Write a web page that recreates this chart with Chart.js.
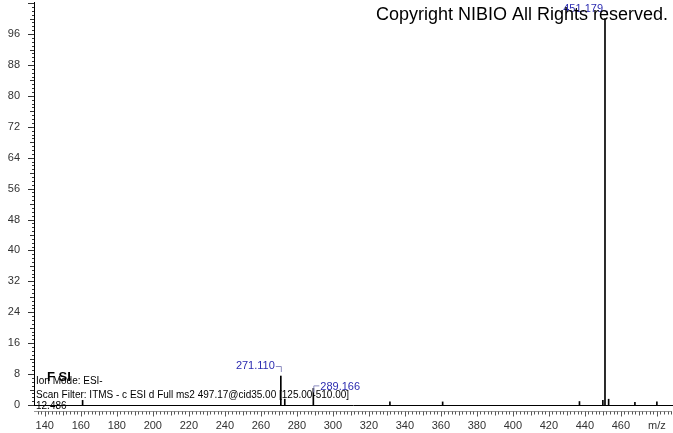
<!DOCTYPE html>
<html>
<head>
<meta charset="utf-8">
<script src="https://cdn.jsdelivr.net/npm/chart.js@4.4.0/dist/chart.umd.min.js"></script>
<style>
  body { margin: 0; background: #fff; }
  canvas { display: block; }
</style>
</head>
<body>
<canvas id="ms" width="673" height="433"></canvas>
<script>
// peaks (m/z, relative abundance)
const mz        = [161.0, 271.110, 273.3, 289.166, 331.7, 361.0, 437.0, 450.0, 451.179, 453.2, 467.8, 480.0];
const intensity = [1.2,   7.5,     1.5,   4.3,     0.8,   0.8,   0.9,   1.2,   100,     1.5,   0.7,   0.8];
const peakLabels = ["451.179", "271.110", "289.166"];
const labelSide  = ["up", "left", "right"];

const xMin = 134, xMax = 488.4;
const yMax = 104.3;

const infoLines = [
  "Ion Mode: ESI-",
  "Scan Filter: ITMS - c ESI d Full ms2 497.17@cid35.00 [125.00-510.00]",
  "12.486"
];

const overlay = {
  id: "overlay",
  afterDraw(chart) {
    const ctx = chart.ctx;
    const x = chart.scales.x, y = chart.scales.y;
    const area = chart.chartArea;
    ctx.save();

    // y minor ticks
    ctx.strokeStyle = "#333";
    ctx.lineWidth = 1;
    for (let v = 0; v <= 104; v++) {
      const py = Math.round(y.getPixelForValue(v)) + 0.5;
      const len = v % 8 === 0 ? 6 : (v % 4 === 0 ? 4 : 2);
      ctx.beginPath();
      ctx.moveTo(area.left - len, py);
      ctx.lineTo(area.left, py);
      ctx.stroke();
    }

    // x tick row under baseline
    const rowY = area.bottom + 6.5;
    ctx.strokeStyle = "#999";
    ctx.beginPath();
    ctx.moveTo(area.left, rowY);
    ctx.lineTo(area.right, rowY);
    ctx.stroke();
    ctx.strokeStyle = "#555";
    for (let v = 136; v <= 488; v += 2) {
      const px = Math.round(x.getPixelForValue(v)) + 0.5;
      const len = v % 20 === 0 ? 5 : (v % 10 === 0 ? 4 : 3);
      ctx.beginPath();
      ctx.moveTo(px, rowY);
      ctx.lineTo(px, rowY + len);
      ctx.stroke();
    }

    // peak labels
    ctx.font = "11px Arial, 'Liberation Sans'";
    ctx.textBaseline = "middle";
    peakLabels.forEach((lab, i) => {
      const idx = mz.findIndex(m => m.toFixed(3) === lab);
      const px = x.getPixelForValue(mz[idx]);
      const py = y.getPixelForValue(intensity[idx]);
      ctx.fillStyle = "#2b2bb0";
      ctx.strokeStyle = "#8c8cc0";
      ctx.beginPath();
      if (labelSide[i] === "up") {
        const ly = py - 10;
        ctx.textAlign = "right";
        ctx.fillText(lab, px - 2, ly);
        ctx.moveTo(px - 1, ly + 2.5); ctx.lineTo(px + 2.5, ly + 2.5); ctx.lineTo(px + 2.5, ly + 6);
      } else if (labelSide[i] === "left") {
        const ly = py - 10;
        ctx.textAlign = "right";
        ctx.fillText(lab, px - 6, ly);
        ctx.moveTo(px - 5, ly + 0.5); ctx.lineTo(px + 0.5, ly + 0.5); ctx.lineTo(px + 0.5, ly + 6);
      } else {
        const ly = py - 1;
        ctx.textAlign = "left";
        ctx.fillText(lab, px + 7, ly);
        ctx.moveTo(px + 6, ly - 1.5); ctx.lineTo(px + 0.5, ly - 1.5); ctx.lineTo(px + 0.5, ly + 5);
      }
      ctx.stroke();
    });

    // copyright
    ctx.fillStyle = "#000";
    ctx.textAlign = "left";
    ctx.textBaseline = "alphabetic";
    ctx.font = "18px Arial, 'Liberation Sans'";
    ctx.fillText("Copyright NIBIO All Rights reserved.", 376, 20, 292);

    // info block
    ctx.font = "bold 13px Arial, 'Liberation Sans'";
    ctx.fillText("F SI", 47, 381);
    ctx.font = "10px Arial, 'Liberation Sans'";
    ctx.textBaseline = "middle";
    ctx.fillText(infoLines[0], 36, 381);
    ctx.fillText(infoLines[1], 36, 395, 325);
    ctx.fillText(infoLines[2], 36, 406);

    ctx.restore();
  }
};

new Chart(document.getElementById("ms"), {
  type: "bar",
  data: {
    datasets: [{
      data: mz.map((m, i) => ({ x: m, y: intensity[i] })),
      backgroundColor: "#000",
      borderWidth: 0,
      barThickness: 1
    }]
  },
  options: {
    responsive: false,
    animation: false,
    layout: { padding: { top: 2, right: 1, left: 0, bottom: 0 } },
    plugins: { legend: { display: false }, tooltip: { enabled: false } },
    scales: {
      x: {
        type: "linear",
        offset: false,
        min: xMin,
        max: xMax,
        grid: { display: false, offset: false },
        border: { display: true, color: "#000", width: 1 },
        ticks: {
          stepSize: 20,
          includeBounds: false,
          autoSkip: false,
          maxRotation: 0,
          padding: 6,
          color: "#333",
          font: { family: "Arial, 'Liberation Sans'", size: 11 },
          callback: v => v === 480 ? "m/z" : (v % 20 === 0 ? v : "")
        },
        afterFit: s => { s.height = 28; s.paddingLeft = 0; s.paddingRight = 0; }
      },
      y: {
        min: 0,
        max: yMax,
        grid: { display: false },
        border: { display: true, color: "#000", width: 1 },
        ticks: {
          stepSize: 8,
          includeBounds: false,
          autoSkip: false,
          padding: 6,
          color: "#333",
          font: { family: "Arial, 'Liberation Sans'", size: 11 },
          callback: v => (v % 8 === 0 && v <= 96) ? v : ""
        },
        afterFit: s => { s.width = 34; s.paddingTop = 0; s.paddingBottom = 0; }
      }
    }
  },
  plugins: [overlay]
});
</script>
</body>
</html>
